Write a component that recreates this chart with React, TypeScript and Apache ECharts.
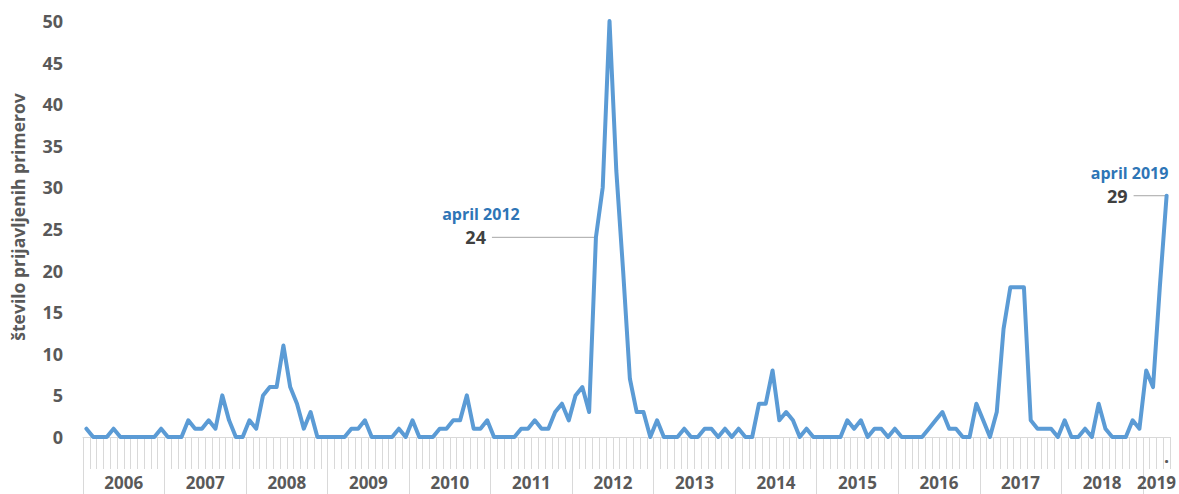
import { useEffect, useRef } from "react";
import * as echarts from "echarts";

// Monthly number of reported cases, one array per year (2019: January–April)
const cases2006 = [1, 0, 0, 0, 1, 0, 0, 0, 0, 0, 0, 1];
const cases2007 = [0, 0, 0, 2, 1, 1, 2, 1, 5, 2, 0, 0];
const cases2008 = [2, 1, 5, 6, 6, 11, 6, 4, 1, 3, 0, 0];
const cases2009 = [0, 0, 0, 1, 1, 2, 0, 0, 0, 0, 1, 0];
const cases2010 = [2, 0, 0, 0, 1, 1, 2, 2, 5, 1, 1, 2];
const cases2011 = [0, 0, 0, 0, 1, 1, 2, 1, 1, 3, 4, 2];
const cases2012 = [5, 6, 3, 24, 30, 50, 32, 20, 7, 3, 3, 0];
const cases2013 = [2, 0, 0, 0, 1, 0, 0, 1, 1, 0, 1, 0];
const cases2014 = [1, 0, 0, 4, 4, 8, 2, 3, 2, 0, 1, 0];
const cases2015 = [0, 0, 0, 0, 2, 1, 2, 0, 1, 1, 0, 1];
const cases2016 = [0, 0, 0, 0, 1, 2, 3, 1, 1, 0, 0, 4];
const cases2017 = [2, 0, 3, 13, 18, 18, 18, 2, 1, 1, 1, 0];
const cases2018 = [2, 0, 0, 1, 0, 4, 1, 0, 0, 0, 2, 1];
const cases2019 = [8, 6, 18, 29];

const years = [2006, 2007, 2008, 2009, 2010, 2011, 2012, 2013, 2014, 2015, 2016, 2017, 2018, 2019];
const casesByYear = [
  cases2006, cases2007, cases2008, cases2009, cases2010, cases2011, cases2012,
  cases2013, cases2014, cases2015, cases2016, cases2017, cases2018, cases2019,
];
const monthNames = [
  "januar", "februar", "marec", "april", "maj", "junij",
  "julij", "avgust", "september", "oktober", "november", "december",
];

const yTicks = { min: 0, max: 50, step: 5 };
const yTitle = "število prijavljenih primerov";

// highlighted months with their call-outs
const highlights = [
  { key: "2012-04", lead: 104, labelDx: 115 },
  { key: "2019-04", lead: 33, labelDx: 37 },
];

// month keys "YYYY-MM" and the flat series
const months: string[] = [];
const cases: number[] = [];
years.forEach((y, yi) => {
  casesByYear[yi].forEach((v, m) => {
    months.push(`${y}-${String(m + 1).padStart(2, "0")}`);
    cases.push(v);
  });
});
const n = months.length;

// year axis runs right-to-left so that its ticks fall on January boundaries
const monthsReversed = [...months].reverse();
const yearLabelSlots = new Set<number>();
let start = 0;
casesByYear.forEach((arr) => {
  const mid = start + arr.length / 2 - 1; // month whose right edge is the year's centre
  yearLabelSlots.add(n - 1 - mid);
  start += arr.length;
});

const GRAY = "#595959";
const LIGHT = "#D9D9D9";
const FONT = '"Open Sans", "Noto Sans", sans-serif';

export default function App() {
  const ref = useRef<HTMLDivElement>(null);

  useEffect(() => {
    if (!ref.current) return;
    const chart = echarts.init(ref.current, null, { renderer: "svg" });

    chart.setOption({
      animation: false,
      backgroundColor: "#ffffff",
      grid: {
        left: 83,
        right: 9,
        top: 21,
        bottom: 57,
        containLabel: false,
        outerBoundsMode: "none",
      },
      xAxis: [
        {
          type: "category",
          data: months,
          boundaryGap: true,
          axisLine: { show: true, lineStyle: { color: LIGHT, width: 1 } },
          axisTick: { show: true, interval: 0, length: 32, lineStyle: { color: LIGHT, width: 1 } },
          axisLabel: {
            interval: (i: number) => i === n - 1,
            formatter: () => ".",
            margin: 10,
            fontFamily: FONT,
            fontWeight: "bold",
            fontSize: 18,
            color: GRAY,
          },
          splitLine: { show: false },
        },
        {
          type: "category",
          data: monthsReversed,
          inverse: true,
          position: "bottom",
          boundaryGap: true,
          axisLine: { show: false },
          axisTick: {
            show: true,
            interval: (j: number) => j % 12 === 4,
            length: 57,
            lineStyle: { color: LIGHT, width: 1 },
          },
          axisLabel: {
            interval: (j: number) => yearLabelSlots.has(j),
            formatter: (v: string) => v.slice(0, 4),
            margin: 37,
            padding: [0, 0, 0, 6.8],
            fontFamily: FONT,
            fontWeight: "bold",
            fontSize: 17,
            color: GRAY,
          },
          splitLine: { show: false },
        },
      ],
      yAxis: {
        type: "value",
        min: yTicks.min,
        max: yTicks.max,
        interval: yTicks.step,
        axisLine: { show: false },
        axisTick: { show: false },
        splitLine: { show: false },
        axisLabel: {
          margin: 20,
          fontFamily: FONT,
          fontWeight: "bold",
          fontSize: 18,
          color: GRAY,
        },
        name: yTitle,
        nameLocation: "middle",
        nameGap: 56,
        nameTextStyle: {
          fontFamily: FONT,
          fontWeight: "bold",
          fontSize: 17.5,
          color: GRAY,
          padding: [0, 0, 0, 24],
        },
      },
      series: [
        {
          type: "line",
          data: cases,
          xAxisIndex: 0,
          yAxisIndex: 0,
          symbol: "none",
          lineStyle: { color: "#5B9BD5", width: 4, join: "round", cap: "round" },
          itemStyle: { color: "#5B9BD5" },
        },
      ],
    });

    // call-outs anchored to the data points through the chart's own scales
    const elements: any[] = [];
    highlights.forEach((h) => {
      const idx = months.indexOf(h.key);
      const value = cases[idx];
      const [px, py] = chart.convertToPixel({ seriesIndex: 0 }, [idx, value]) as number[];
      const [yy, mm] = h.key.split("-");
      const label = `${monthNames[Number(mm) - 1]} ${yy}`;
      elements.push({
        type: "line",
        shape: { x1: px - h.lead, y1: py, x2: px, y2: py },
        style: { stroke: "#A6A6A6", lineWidth: 1 },
        z: 1,
      });
      elements.push({
        type: "text",
        x: px - h.lead - 6,
        y: py,
        style: {
          text: String(value),
          fill: "#404040",
          font: `bold 18px ${FONT}`,
          align: "right",
          verticalAlign: "middle",
          textAlign: "right",
          textVerticalAlign: "middle",
        },
        z: 10,
      });
      elements.push({
        type: "text",
        x: px - h.labelDx,
        y: py - 23,
        style: {
          text: label,
          fill: "#2E75B6",
          font: `bold 16px ${FONT}`,
          align: "center",
          verticalAlign: "middle",
          textAlign: "center",
          textVerticalAlign: "middle",
        },
        z: 10,
      });
    });
    chart.setOption({ graphic: { elements } });

    return () => chart.dispose();
  }, []);

  return (
    <div
      ref={ref}
      style={{ position: "absolute", left: 0, top: 0, width: 1179, height: 494 }}
    />
  );
}
